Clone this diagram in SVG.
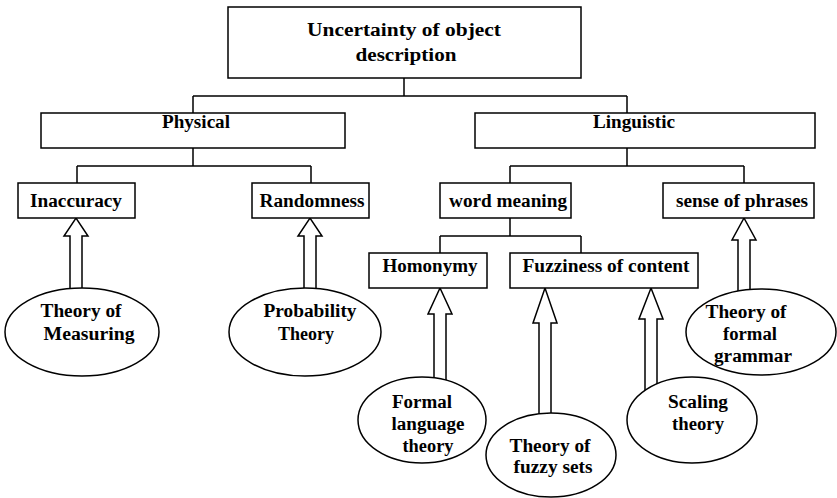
<svg xmlns="http://www.w3.org/2000/svg" width="837" height="498" viewBox="0 0 837 498">
  <style>
    .box { fill: #fff; stroke: #000; stroke-width: 1.5; }
    .oval { fill: #fff; stroke: #000; stroke-width: 1.5; }
    .link { fill: none; stroke: #000; stroke-width: 1.5; }
    .arrow { fill: #fff; stroke: #000; stroke-width: 1.5; stroke-linejoin: miter; }
    .lbl { font-weight: bold; font-size: 18px; fill: #000; text-anchor: middle; }
  </style>
  <rect width="837" height="498" fill="#fff"/>

  <!-- tree connectors -->
  <g id="connectors">
    <path class="link" d="M404 78 V96 M193 96 H627 M193 96 V113 M627 96 V113"/>
    <path class="link" d="M193 148 V166 M77 166 H311 M77 166 V183 M311 166 V183"/>
    <path class="link" d="M627 148 V166 M510 166 H744 M510 166 V183 M744 166 V183"/>
    <path class="link" d="M510 218 V236 M440 236 H581 M440 236 V253 M581 236 V253"/>
    <!-- hollow block arrows from theories to categories -->
    <path class="arrow" d="M70 300 V236 H64 L76 218 L88 236 H82 V300"/>
    <path class="arrow" d="M304 300 V236 H298 L310 218 L322 236 H316 V300"/>
    <path class="arrow" d="M434 392 V314 H428 L440 288 L452 314 H446 V392"/>
    <path class="arrow" d="M539 424 V323 H533 L545 288 L557 323 H551 V424"/>
    <path class="arrow" d="M645 398 V319 H639 L651 288 L663 319 H657 V398"/>
    <path class="arrow" d="M738 300 V240 H732 L744 218 L756 240 H750 V300"/>
  </g>

  <g font-family="'Liberation Serif', 'DejaVu Serif', serif">
  <g id="root">
    <rect class="box" x="228" y="7" width="353" height="71"/>
    <text class="lbl" x="404" y="36" textLength="194" lengthAdjust="spacingAndGlyphs">Uncertainty of object</text>
    <text class="lbl" x="406" y="61" textLength="101" lengthAdjust="spacingAndGlyphs">description</text>
  </g>
  <g id="physical">
    <rect class="box" x="41" y="113" width="304" height="35"/>
    <text class="lbl" x="196" y="128" textLength="68" lengthAdjust="spacingAndGlyphs">Physical</text>
  </g>
  <g id="linguistic">
    <rect class="box" x="475" y="113" width="340" height="35"/>
    <text class="lbl" x="634" y="128" textLength="82" lengthAdjust="spacingAndGlyphs">Linguistic</text>
  </g>
  <g id="inaccuracy">
    <rect class="box" x="18" y="183" width="117" height="35"/>
    <text class="lbl" x="76" y="207" textLength="92" lengthAdjust="spacingAndGlyphs">Inaccuracy</text>
  </g>
  <g id="randomness">
    <rect class="box" x="252" y="183" width="117" height="35"/>
    <text class="lbl" x="312" y="207" textLength="105" lengthAdjust="spacingAndGlyphs">Randomness</text>
  </g>
  <g id="word-meaning">
    <rect class="box" x="440" y="183" width="131" height="35"/>
    <text class="lbl" x="508" y="207" textLength="118" lengthAdjust="spacingAndGlyphs">word meaning</text>
  </g>
  <g id="sense-of-phrases">
    <rect class="box" x="663" y="183" width="151" height="35"/>
    <text class="lbl" x="742" y="207" textLength="132" lengthAdjust="spacingAndGlyphs">sense of phrases</text>
  </g>
  <g id="homonymy">
    <rect class="box" x="369" y="253" width="118" height="35"/>
    <text class="lbl" x="430" y="272" textLength="95" lengthAdjust="spacingAndGlyphs">Homonymy</text>
  </g>
  <g id="fuzziness">
    <rect class="box" x="510" y="253" width="188" height="35"/>
    <text class="lbl" x="606" y="272" textLength="167" lengthAdjust="spacingAndGlyphs">Fuzziness of content</text>
  </g>

  <g id="theory-measuring">
    <ellipse class="oval" cx="82" cy="332" rx="77" ry="44"/>
    <text class="lbl" x="81" y="317" textLength="81" lengthAdjust="spacingAndGlyphs">Theory of</text>
    <text class="lbl" x="89" y="340" textLength="91" lengthAdjust="spacingAndGlyphs">Measuring</text>
  </g>
  <g id="probability-theory">
    <ellipse class="oval" cx="305" cy="332" rx="76" ry="44"/>
    <text class="lbl" x="310" y="317" textLength="93" lengthAdjust="spacingAndGlyphs">Probability</text>
    <text class="lbl" x="306" y="340" textLength="56" lengthAdjust="spacingAndGlyphs">Theory</text>
  </g>
  <g id="formal-language-theory">
    <ellipse class="oval" cx="422" cy="420" rx="64" ry="43"/>
    <text class="lbl" x="422" y="408" textLength="60" lengthAdjust="spacingAndGlyphs">Formal</text>
    <text class="lbl" x="428" y="430" textLength="73" lengthAdjust="spacingAndGlyphs">language</text>
    <text class="lbl" x="428" y="452" textLength="51" lengthAdjust="spacingAndGlyphs">theory</text>
  </g>
  <g id="fuzzy-sets">
    <ellipse class="oval" cx="551" cy="455" rx="65" ry="42"/>
    <text class="lbl" x="550" y="452" textLength="81" lengthAdjust="spacingAndGlyphs">Theory of</text>
    <text class="lbl" x="553" y="473" textLength="79" lengthAdjust="spacingAndGlyphs">fuzzy sets</text>
  </g>
  <g id="scaling-theory">
    <ellipse class="oval" cx="692" cy="420" rx="65" ry="43"/>
    <text class="lbl" x="698" y="408" textLength="60" lengthAdjust="spacingAndGlyphs">Scaling</text>
    <text class="lbl" x="698" y="430" textLength="52" lengthAdjust="spacingAndGlyphs">theory</text>
  </g>
  <g id="formal-grammar">
    <ellipse class="oval" cx="761" cy="332" rx="75" ry="43"/>
    <text class="lbl" x="746" y="318" textLength="81" lengthAdjust="spacingAndGlyphs">Theory of</text>
    <text class="lbl" x="750" y="340" textLength="54" lengthAdjust="spacingAndGlyphs">formal</text>
    <text class="lbl" x="753" y="362" textLength="78" lengthAdjust="spacingAndGlyphs">grammar</text>
  </g>
  </g>
</svg>
